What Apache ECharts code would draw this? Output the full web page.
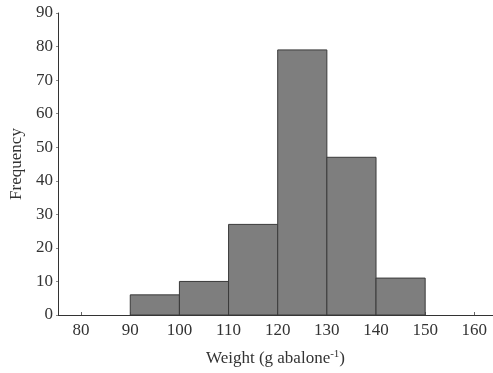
<!DOCTYPE html>
<html>
<head>
<meta charset="utf-8">
<script src="https://cdn.jsdelivr.net/npm/echarts@6/dist/echarts.min.js"></script>
<style>
html, body { margin: 0; padding: 0; background: #fff; }
#chart { width: 493px; height: 373px; }
</style>
</head>
<body>
<div id="chart"></div>
<script>
// Histogram of abalone weights: bin edges (g) and counts per bin
const binStarts = [90, 100, 110, 120, 130, 140];
const binWidth = 10;
const counts = [6, 10, 27, 79, 47, 11];
const xTicks = [80, 90, 100, 110, 120, 130, 140, 150, 160];
const yTicks = [0, 10, 20, 30, 40, 50, 60, 70, 80, 90];

const serif = '"Liberation Serif", "DejaVu Serif", serif';
const ink = '#333';

const histData = binStarts.map((s, i) => [s, s + binWidth, counts[i]]);

const chart = echarts.init(document.getElementById('chart'), null, { renderer: 'canvas' });

chart.setOption({
  animation: false,
  backgroundColor: '#fff',
  grid: { left: 58, right: 0, top: 13, bottom: 58, containLabel: false },
  xAxis: [{
    type: 'value',
    min: 75.3,
    max: 163.8,
    axisLine: { show: true, onZero: false, lineStyle: { color: ink, width: 1 } },
    axisTick: { show: true, inside: true, length: 3, customValues: xTicks, lineStyle: { color: '#666' } },
    axisLabel: {
      customValues: xTicks,
      color: ink, fontFamily: serif, fontSize: 17, margin: 7
    },
    splitLine: { show: false },
    name: '{n|Weight (g abalone}{s|-1}{n|)}',
    nameLocation: 'middle',
    nameGap: 34,
    nameTextStyle: {
      rich: {
        n: { fontFamily: serif, fontSize: 17, color: ink },
        s: { fontFamily: serif, fontSize: 11, color: ink, verticalAlign: 'top', padding: [0, 0, 9, 0] }
      }
    }
  }, {
    type: 'value',
    position: 'top',
    min: 75.3,
    max: 163.8,
    axisLine: { show: true, lineStyle: { color: ink, width: 1 } },
    axisTick: { show: false },
    axisLabel: { show: false },
    splitLine: { show: false }
  }],
  yAxis: {
    type: 'value',
    min: 0,
    max: 90,
    axisLine: { show: true, lineStyle: { color: ink, width: 1 } },
    axisTick: { show: true, inside: false, length: 2, customValues: yTicks, lineStyle: { color: '#888' } },
    axisLabel: { customValues: yTicks, color: ink, fontFamily: serif, fontSize: 17, margin: 5 },
    splitLine: { show: false },
    name: 'Frequency',
    nameLocation: 'middle',
    nameGap: 32,
    nameTextStyle: { fontFamily: serif, fontSize: 17, color: ink }
  },
  series: [{
    type: 'custom',
    xAxisIndex: 0,
    data: histData,
    renderItem: function (params, api) {
      const p0 = api.coord([api.value(0), 0]);
      const p1 = api.coord([api.value(1), api.value(2)]);
      return {
        type: 'rect',
        shape: { x: p0[0], y: p1[1], width: p1[0] - p0[0], height: p0[1] - p1[1] },
        style: { fill: '#7e7e7e', stroke: '#3a3a3a', lineWidth: 1 }
      };
    },
    encode: { x: [0, 1], y: 2 }
  }]
});
</script>
</body>
</html>
